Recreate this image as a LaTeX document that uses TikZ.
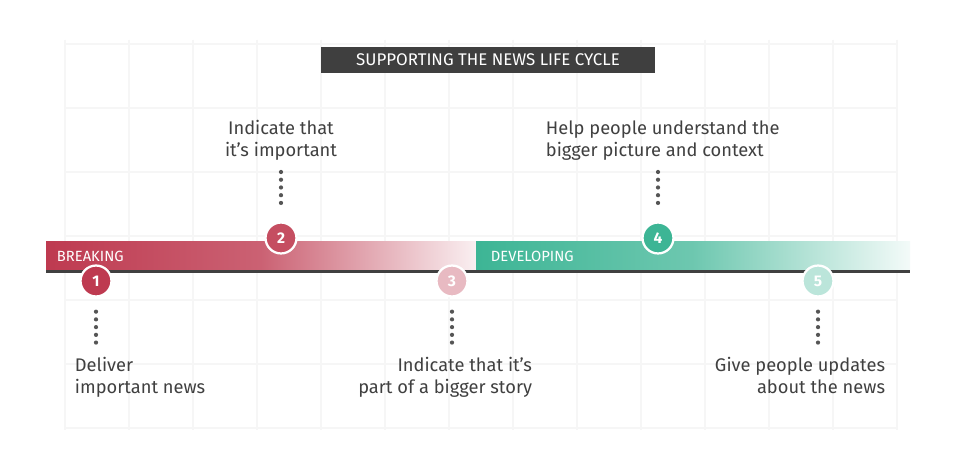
\documentclass[tikz,border=0pt]{standalone}
\usepackage{fontspec}
\setmainfont{Fira Sans}
\usetikzlibrary{positioning}
\definecolor{breakred}{HTML}{BE3A50}
\definecolor{devgreen}{HTML}{3DB595}
\definecolor{titlegray}{HTML}{3F3F3F}
\definecolor{dotgray}{HTML}{555555}
\tikzset{
  stepnum/.style={circle, draw=white, line width=1.6pt, minimum size=22pt, inner sep=0pt, text=white, font=\bfseries\fontsize{11}{12}\selectfont},
  label text/.style={font=\fontsize{13}{15.5}\selectfont, text=black!75, align=left},
  dotline/.style={dotgray, line width=3pt, line cap=round, dash pattern=on 0pt off 5.5pt},
}
\begin{document}
\begin{tikzpicture}[x=0.025cm, y=-0.025cm]
\useasboundingbox (0,0) rectangle (960,464);
\fill[white] (0,0) rectangle (960,464);
% background grid
\foreach \gx in {65,129,193,257,321,385,449,513,577,641,705,769,833,897}
  \draw[black!3.5, line width=0.8pt] (\gx,40) -- (\gx,430);
\foreach \gy in {44,108,172,236,300,364,428}
  \draw[black!3.5, line width=0.8pt] (65,\gy) -- (897,\gy);
% title
\node[fill=titlegray, text=white, minimum width=8.33cm, minimum height=0.65cm, font=\fontsize{12}{14}\selectfont] (title) at (488,60) {SUPPORTING THE NEWS LIFE CYCLE};
% bars
\shade[left color=breakred, right color=breakred!8, middle color=breakred!80] (46,242) rectangle (476,270);
\shade[left color=devgreen, right color=devgreen!6, middle color=devgreen!75] (476,242) rectangle (910,270);
\node[anchor=west, text=white, font=\fontsize{10.5}{12}\selectfont] (breaking) at (52,256) {BREAKING};
\node[anchor=west, text=white, font=\fontsize{10.5}{12}\selectfont] (developing) at (486,256) {DEVELOPING};
\draw[black!75, line width=2pt] (46,271.5) -- (910,271.5);
% steps
\node[stepnum, fill=breakred] (s1) at (96,281) {1};
\node[stepnum, fill=breakred!90] (s2) at (281,238) {2};
\node[stepnum, fill=breakred!35] (s3) at (452,281) {3};
\node[stepnum, fill=devgreen] (s4) at (658,238) {4};
\node[stepnum, fill=devgreen!35] (s5) at (818,281) {5};
% texts
\node[label text, anchor=north west] (t1) at (70,352) {Deliver\\important news};
\node[label text, anchor=south, align=center] (t2) at (281,165) {Indicate that\\it’s important};
\node[label text, anchor=north east, align=right] (t3) at (537,352) {Indicate that it’s\\part of a bigger story};
\node[label text, anchor=south west] (t4) at (541,165) {Help people understand the\\bigger picture and context};
\node[label text, anchor=north east, align=right] (t5) at (890,352) {Give people updates\\about the news};
% dotted leaders
\draw[dotline] ([yshift=-10pt]s1.south) -- (96,345);
\draw[dotline] (281,172) -- ([yshift=10pt]s2.north);
\draw[dotline] ([yshift=-10pt]s3.south) -- (452,345);
\draw[dotline] (658,172) -- ([yshift=10pt]s4.north);
\draw[dotline] ([yshift=-10pt]s5.south) -- (818,345);
\end{tikzpicture}
\end{document}
